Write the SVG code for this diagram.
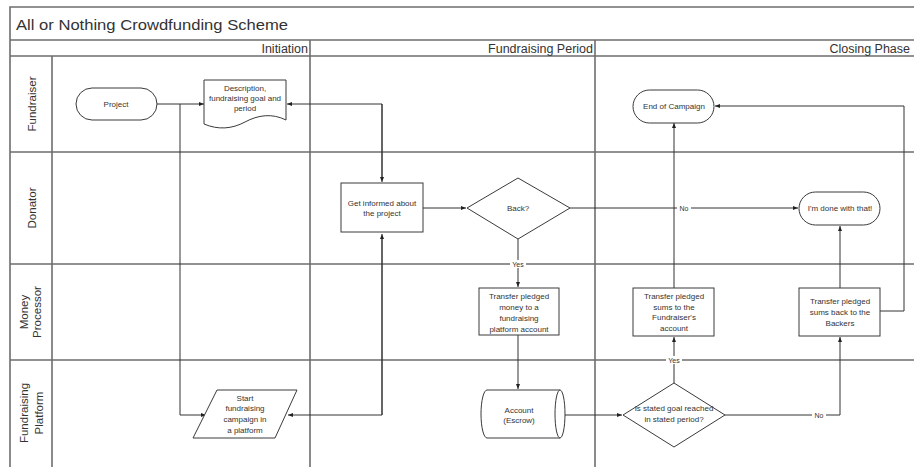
<svg xmlns="http://www.w3.org/2000/svg" width="914" height="467" viewBox="0 0 914 467">
<style>
.grid{stroke:#6e6e6e;stroke-width:1.6;fill:none}
.shape{fill:#fff;stroke:#3a3a3a;stroke-width:1}
.conn{stroke:#333;stroke-width:1;fill:none}
text{font-family:"Liberation Sans","DejaVu Sans",sans-serif;fill:#333}
.t{font-size:8px;text-anchor:middle}
.lane{font-size:11.5px;text-anchor:middle}
.phase{font-size:12.5px;text-anchor:end}
.lbl{font-size:7px;text-anchor:middle}
</style>
<defs>
<marker id="arr" viewBox="0 0 10 10" refX="10" refY="5" markerWidth="5" markerHeight="5" orient="auto">
<path d="M0,1 L10,5 L0,9 Z" fill="#222"/>
</marker>
</defs>
<rect x="0" y="0" width="914" height="467" fill="#fff"/>
<g id="frame">
<path class="grid" d="M10,470 V7 H920 M10,40 H920 M10,56 H920 M10,152 H920 M10,264 H920 M10,360 H920 M52,56 V470 M310,40 V470 M595,40 V470"/>
<text x="16" y="30" style="font-size:15.5px" textLength="272" lengthAdjust="spacingAndGlyphs">All or Nothing Crowdfunding Scheme</text>
<text class="phase" x="308" y="52.5">Initiation</text>
<text class="phase" x="593" y="52.5">Fundraising Period</text>
<text class="phase" x="910" y="52.5">Closing Phase</text>
<text class="lane" transform="translate(36,104) rotate(-90)">Fundraiser</text>
<text class="lane" transform="translate(36,208) rotate(-90)">Donator</text>
<text class="lane" transform="translate(30,312) rotate(-90)"><tspan x="0" dy="-2">Money</tspan><tspan x="0" dy="13">Processor</tspan></text>
<text class="lane" transform="translate(31,413) rotate(-90)"><tspan x="0" dy="-3">Fundraising</tspan><tspan x="0" dy="15">Platform</tspan></text>
</g>
<g id="connectors">
<path class="conn" d="M157,104 H204" marker-end="url(#arr)"/>
<path class="conn" d="M180,104 V415 H206" marker-end="url(#arr)"/>
<path class="conn" d="M382,180 V104 H287" marker-end="url(#arr)"/>
<path class="conn" d="M382,104 V182" marker-end="url(#arr)"/>
<path class="conn" d="M382,236 V415 H288" marker-end="url(#arr)"/>
<path class="conn" d="M382,415 V234" marker-end="url(#arr)"/>
<path class="conn" d="M423,208 H466" marker-end="url(#arr)"/>
<path class="conn" d="M570,208 H798" marker-end="url(#arr)"/>
<path class="conn" d="M518,239 V287" marker-end="url(#arr)"/>
<path class="conn" d="M518,335 V389" marker-end="url(#arr)"/>
<path class="conn" d="M565,415 H622" marker-end="url(#arr)"/>
<path class="conn" d="M674,383 V337" marker-end="url(#arr)"/>
<path class="conn" d="M674,288 V123" marker-end="url(#arr)"/>
<path class="conn" d="M725,415 H840 V337" marker-end="url(#arr)"/>
<path class="conn" d="M840,288 V226" marker-end="url(#arr)"/>
<path class="conn" d="M880,311 H904 V106 H715" marker-end="url(#arr)"/>
<rect x="677" y="204" width="14" height="8" fill="#fff"/>
<text class="lbl" x="684" y="210.5">No</text>
<rect x="510" y="260" width="16" height="8" fill="#fff"/>
<text class="lbl" x="518" y="266.5">Yes</text>
<rect x="666" y="356" width="16" height="8" fill="#fff"/>
<text class="lbl" x="674" y="362.5">Yes</text>
<rect x="812" y="411" width="14" height="8" fill="#fff"/>
<text class="lbl" x="819" y="417.5">No</text>
</g>
<g id="project">
<rect class="shape" x="76" y="88" width="81" height="32" rx="16"/>
<text class="t" x="116" y="107">Project</text>
</g>
<g id="description">
<path class="shape" d="M204,80 H286 V120 C272,113 258,115 245,122 C232,129 218,130 204,124 Z"/>
<text class="t" x="245" y="91"><tspan x="245">Description,</tspan><tspan x="245" dy="10">fundraising goal and</tspan><tspan x="245" dy="10">period</tspan></text>
</g>
<g id="start-campaign">
<path class="shape" d="M217,390 H297 L275,438 H193 Z"/>
<text class="t" x="245" y="400.5"><tspan x="245">Start</tspan><tspan x="245" dy="10.8">fundraising</tspan><tspan x="245" dy="10.8">campaign in</tspan><tspan x="245" dy="10.8">a platform</tspan></text>
</g>
<g id="get-informed">
<rect class="shape" x="341" y="183" width="82" height="49"/>
<text class="t" x="382" y="206"><tspan x="382">Get informed about</tspan><tspan x="382" dy="10">the project</tspan></text>
</g>
<g id="back">
<path class="shape" d="M518,178 L570,208 L518,239 L467,208 Z"/>
<text class="t" x="518" y="211">Back?</text>
</g>
<g id="transfer-platform">
<rect class="shape" x="479" y="288" width="80" height="47"/>
<text class="t" x="519" y="299"><tspan x="519">Transfer pledged</tspan><tspan x="519" dy="11">money to a</tspan><tspan x="519" dy="10.5">fundraising</tspan><tspan x="519" dy="11">platform account</tspan></text>
</g>
<g id="account">
<path class="shape" d="M487,390 H560 A5,24 0 0 1 560,438 H487 A6,24 0 0 1 487,390 Z"/>
<path class="shape" d="M560,390 A5,24 0 0 0 560,438"/>
<text class="t" x="519" y="413"><tspan x="519">Account</tspan><tspan x="519" dy="9.5">(Escrow)</tspan></text>
</g>
<g id="goal-reached">
<path class="shape" d="M674,383 L725,415 L674,447 L623,415 Z"/>
<text class="t" x="674" y="411"><tspan x="674">Is stated goal reached</tspan><tspan x="674" dy="11">in stated period?</tspan></text>
</g>
<g id="transfer-fundraiser">
<rect class="shape" x="633" y="288" width="81" height="48"/>
<text class="t" x="674" y="299"><tspan x="674">Transfer pledged</tspan><tspan x="674" dy="10.5">sums to the</tspan><tspan x="674" dy="10.5">Fundraiser's</tspan><tspan x="674" dy="10.5">account</tspan></text>
</g>
<g id="end-campaign">
<rect class="shape" x="633" y="90" width="81" height="33" rx="16.5"/>
<text class="t" x="674" y="109">End of Campaign</text>
</g>
<g id="done">
<rect class="shape" x="799" y="192" width="81" height="33" rx="16.5"/>
<text class="t" x="840" y="211">I'm done with that!</text>
</g>
<g id="transfer-back">
<rect class="shape" x="799" y="288" width="81" height="48"/>
<text class="t" x="840" y="304"><tspan x="840">Transfer pledged</tspan><tspan x="840" dy="11">sums back to the</tspan><tspan x="840" dy="11">Backers</tspan></text>
</g>
</svg>
